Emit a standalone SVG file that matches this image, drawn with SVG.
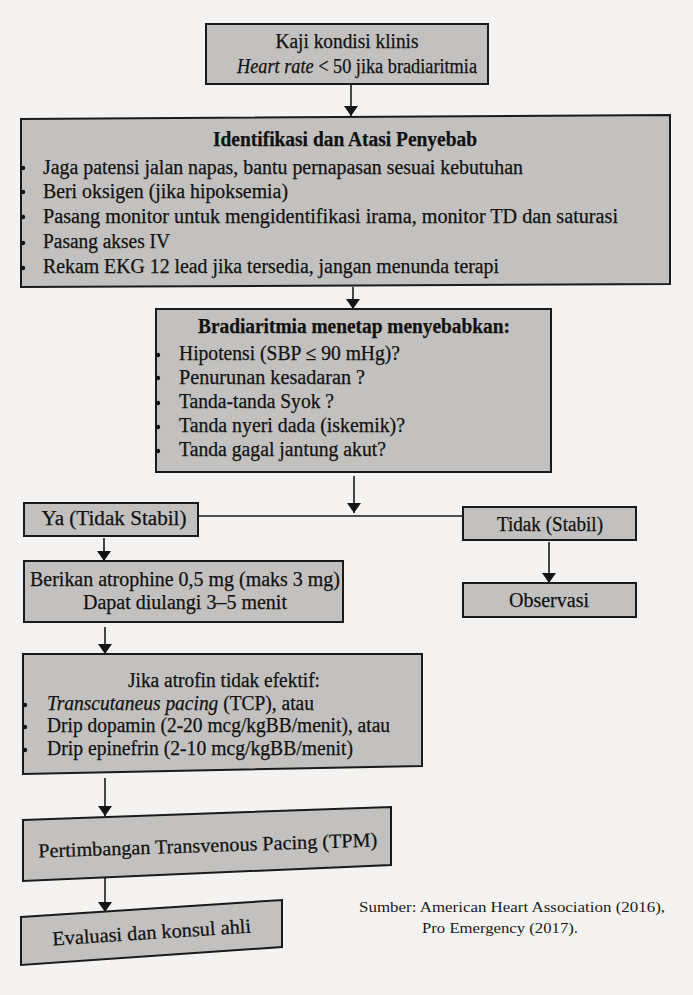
<svg xmlns="http://www.w3.org/2000/svg" width="693" height="995" viewBox="0 0 693 995">
<style>
.bg{fill:#f4f3f1}
.box{fill:#c2c1bf;stroke:#1a1a1a;stroke-width:2}
.t{font-family:"Liberation Serif","Times New Roman",serif;font-size:20px;fill:#111;stroke:#111;stroke-width:0.25}
.b{font-weight:bold}
.i{font-style:italic}
.c{text-anchor:middle}
.src{font-family:"Liberation Serif","Times New Roman",serif;font-size:15px;fill:#1a1a1a}
.ln{stroke:#1a1a1a;stroke-width:1.6;fill:none}
.dot{fill:#141414}
</style>
<defs>
<marker id="ah" viewBox="0 0 10 14" refX="10" refY="7" markerWidth="10" markerHeight="14" markerUnits="userSpaceOnUse" orient="auto">
<path d="M0,0 L10,7 L0,14 Z" fill="#141414"/>
</marker>
</defs>
<rect class="bg" x="0" y="0" width="693" height="995"/>

<g id="connectors">
<line class="ln" x1="351" y1="85" x2="351" y2="116" marker-end="url(#ah)"/>
<line class="ln" x1="353" y1="287" x2="353" y2="309" marker-end="url(#ah)"/>
<line class="ln" x1="354" y1="476" x2="354" y2="513" marker-end="url(#ah)"/>
<line class="ln" x1="198" y1="516" x2="463" y2="516"/>
<line class="ln" x1="104" y1="538" x2="104" y2="561" marker-end="url(#ah)"/>
<line class="ln" x1="549" y1="542" x2="549" y2="583" marker-end="url(#ah)"/>
<line class="ln" x1="105" y1="627" x2="105" y2="654" marker-end="url(#ah)"/>
<line class="ln" x1="105" y1="778" x2="105" y2="816" marker-end="url(#ah)"/>
<line class="ln" x1="105" y1="873" x2="105" y2="912" marker-end="url(#ah)"/>
</g>

<g id="n1">
<rect class="box" x="206" y="24" width="282" height="60"/>
<text class="t c" x="347" y="48" font-size="18.5" textLength="143" lengthAdjust="spacingAndGlyphs">Kaji kondisi klinis</text>
<text class="t c" x="357" y="73" font-size="18.5" textLength="240" lengthAdjust="spacingAndGlyphs"><tspan class="i">Heart rate</tspan> &lt; 50 jika bradiaritmia</text>
</g>

<g id="n2">
<polygon class="box" points="21,119 670,115 670,284 21,287"/>
<text class="t b c" x="345" y="146" textLength="264" lengthAdjust="spacingAndGlyphs">Identifikasi dan Atasi Penyebab</text>
<circle class="dot" cx="23" cy="168" r="2.2"/>
<text class="t" x="43" y="174" textLength="480" lengthAdjust="spacingAndGlyphs">Jaga patensi jalan napas, bantu pernapasan sesuai kebutuhan</text>
<circle class="dot" cx="23" cy="192" r="2.2"/>
<text class="t" x="43" y="198" textLength="245" lengthAdjust="spacingAndGlyphs">Beri oksigen (jika hipoksemia)</text>
<circle class="dot" cx="23" cy="217" r="2.2"/>
<text class="t" x="43" y="223" textLength="575" lengthAdjust="spacingAndGlyphs">Pasang monitor untuk mengidentifikasi irama, monitor TD dan saturasi</text>
<circle class="dot" cx="23" cy="243" r="2.2"/>
<text class="t" x="43" y="248" textLength="127" lengthAdjust="spacingAndGlyphs">Pasang akses IV</text>
<circle class="dot" cx="23" cy="268" r="2.2"/>
<text class="t" x="43" y="273" textLength="456" lengthAdjust="spacingAndGlyphs">Rekam EKG 12 lead jika tersedia, jangan menunda terapi</text>
</g>

<g id="n3">
<rect class="box" x="156" y="309" width="395" height="163"/>
<text class="t b c" x="354" y="333" textLength="312" lengthAdjust="spacingAndGlyphs">Bradiaritmia menetap menyebabkan:</text>
<circle class="dot" cx="158" cy="355" r="2.2"/>
<text class="t" x="179" y="360" textLength="221" lengthAdjust="spacingAndGlyphs">Hipotensi (SBP ≤ 90 mHg)?</text>
<circle class="dot" cx="158" cy="378" r="2.2"/>
<text class="t" x="179" y="384" textLength="186" lengthAdjust="spacingAndGlyphs">Penurunan kesadaran ?</text>
<circle class="dot" cx="158" cy="403" r="2.2"/>
<text class="t" x="179" y="408" textLength="155" lengthAdjust="spacingAndGlyphs">Tanda-tanda Syok ?</text>
<circle class="dot" cx="158" cy="427" r="2.2"/>
<text class="t" x="179" y="432" textLength="226" lengthAdjust="spacingAndGlyphs">Tanda nyeri dada (iskemik)?</text>
<circle class="dot" cx="158" cy="451" r="2.2"/>
<text class="t" x="179" y="456" textLength="207" lengthAdjust="spacingAndGlyphs">Tanda gagal jantung akut?</text>
</g>

<g id="n4">
<rect class="box" x="24" y="503" width="174" height="33"/>
<text class="t c" x="114" y="525" textLength="145" lengthAdjust="spacingAndGlyphs">Ya (Tidak Stabil)</text>
</g>

<g id="n5">
<rect class="box" x="463" y="507" width="173" height="33"/>
<text class="t c" x="550" y="531" textLength="106" lengthAdjust="spacingAndGlyphs">Tidak (Stabil)</text>
</g>

<g id="n6">
<rect class="box" x="24" y="561" width="319" height="61"/>
<text class="t c" x="185" y="586" textLength="310" lengthAdjust="spacingAndGlyphs">Berikan atrophine 0,5 mg (maks 3 mg)</text>
<text class="t c" x="185" y="609" textLength="204" lengthAdjust="spacingAndGlyphs">Dapat diulangi 3–5 menit</text>
</g>

<g id="n7">
<rect class="box" x="463" y="583" width="173" height="34"/>
<text class="t c" x="549" y="607" textLength="80" lengthAdjust="spacingAndGlyphs">Observasi</text>
</g>

<g id="n8">
<polygon class="box" points="23,654 422,654 422,766 23,774"/>
<text class="t c" x="224" y="687" textLength="192" lengthAdjust="spacingAndGlyphs">Jika atrofin tidak efektif:</text>
<circle class="dot" cx="25" cy="705" r="2.2"/>
<text class="t" x="47" y="710" textLength="267" lengthAdjust="spacingAndGlyphs"><tspan class="i">Transcutaneus pacing</tspan> (TCP), atau</text>
<circle class="dot" cx="25" cy="727" r="2.2"/>
<text class="t" x="47" y="732" textLength="343" lengthAdjust="spacingAndGlyphs">Drip dopamin (2-20 mcg/kgBB/menit), atau</text>
<circle class="dot" cx="25" cy="750" r="2.2"/>
<text class="t" x="47" y="755" textLength="306" lengthAdjust="spacingAndGlyphs">Drip epinefrin (2-10 mcg/kgBB/menit)</text>
</g>

<g id="n9">
<polygon class="box" points="23,820 391,807 391,865 23,881"/>
<text class="t c" x="208" y="852" textLength="339" lengthAdjust="spacingAndGlyphs" transform="rotate(-1.9 208 852)">Pertimbangan Transvenous Pacing (TPM)</text>
</g>

<g id="n10">
<polygon class="box" points="21,917 282,900 282,947 21,965"/>
<text class="t c" x="152" y="939" textLength="199" lengthAdjust="spacingAndGlyphs" transform="rotate(-3.7 152 939)">Evaluasi dan konsul ahli</text>
</g>

<g id="source">
<text class="src" x="359" y="912" textLength="306" lengthAdjust="spacingAndGlyphs">Sumber: American Heart Association (2016),</text>
<text class="src" x="422" y="933" textLength="156" lengthAdjust="spacingAndGlyphs">Pro Emergency (2017).</text>
</g>
</svg>
